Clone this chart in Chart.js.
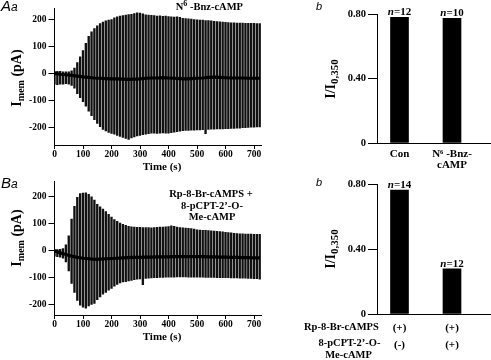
<!DOCTYPE html>
<html>
<head>
<meta charset="utf-8">
<script src="https://cdn.jsdelivr.net/npm/chart.js@4.4.1/dist/chart.umd.min.js"></script>
<style>
  body { margin: 0; background: #fff; width: 491px; height: 360px; position: relative; overflow: hidden;
         font-family: "Liberation Serif", "Times New Roman", serif; font-weight: bold; color: #000; }
  canvas { position: absolute; }
  .t { position: absolute; white-space: nowrap; line-height: 1; }
  .c { transform: translate(-50%, -50%); }
  .rot { transform: translate(-50%, -50%) rotate(-90deg); }
  .panel { font-family: "Liberation Sans", Arial, sans-serif; font-style: italic; font-weight: normal; }
  .sup { font-size: 8px; position: relative; top: -4px; }
  .sub { position: relative; top: 3px; }
</style>
</head>
<body>
<canvas id="traceA" width="268" height="172" style="left:0;top:0"></canvas>
<canvas id="barA" width="211" height="172" style="left:280px;top:0"></canvas>
<canvas id="traceB" width="268" height="188" style="left:0;top:172px"></canvas>
<canvas id="barB" width="211" height="188" style="left:280px;top:172px"></canvas>

<div class="t panel" style="left:1px;top:-2px;font-size:15px">A<span style="font-size:12px">a</span></div>
<div class="t panel" style="left:1px;top:175px;font-size:15px">B<span style="font-size:12px">a</span></div>
<div class="t panel" style="left:316px;top:1px;font-size:11px">b</div>
<div class="t panel" style="left:316px;top:177px;font-size:11px">b</div>

<div class="t" style="right:248px;top:2px;font-size:10.5px">N<span class="sup">6</span> -Bnz-cAMP</div>
<div class="t c" style="left:211px;top:194px;font-size:10.5px">Rp-8-Br-cAMPS +</div>
<div class="t c" style="left:212px;top:205.5px;font-size:10.5px">8-pCPT-2’-O-</div>
<div class="t c" style="left:212px;top:217px;font-size:10.5px">Me-cAMP</div>

<div class="t c" style="left:162px;top:166px;font-size:11px">Time (s)</div>
<div class="t c" style="left:162px;top:336px;font-size:11px">Time (s)</div>
<div class="t rot" style="left:17px;top:78px;font-size:14px">I<span class="sub" style="font-size:10px">mem</span> (pA)</div>
<div class="t rot" style="left:17px;top:238px;font-size:14px">I<span class="sub" style="font-size:10px">mem</span> (pA)</div>
<div class="t rot" style="left:331px;top:79px;font-size:14px">I/I<span class="sub" style="font-size:11px">0,350</span></div>
<div class="t rot" style="left:331px;top:249px;font-size:14px">I/I<span class="sub" style="font-size:11px">0,350</span></div>

<div class="t" style="left:304px;top:321.5px;font-size:10.5px">Rp-8-Br-cAMPS</div>
<div class="t c" style="left:349.5px;top:343.3px;font-size:10.5px">8-pCPT-2’-O-</div>
<div class="t c" style="left:348.5px;top:355px;font-size:10.5px">Me-cAMP</div>

<script>
// sampling times of the oscillation envelope (s)
const traceTime = [
  0, 10, 20, 30, 40, 50, 60, 70, 80, 90,
  100, 110, 120, 130, 140, 150, 160, 170, 180, 190,
  200, 210, 220, 230, 240, 250, 260, 270, 280, 290,
  300, 310, 320, 330, 340, 350, 360, 370, 380, 390,
  400, 410, 420, 430, 440, 450, 460, 470, 480, 490,
  500, 510, 520, 530, 540, 550, 560, 570, 580, 590,
  600, 610, 620, 630, 640, 650, 660, 670, 680, 690,
  700, 710, 720
];

// N6-Bnz-cAMP trace (pA)
const aUpper = [
  8, 8, 8, 6, 6, 6, 10, 20, 40, 62,
  85, 112, 138, 155, 167, 177, 185, 191, 195, 198,
  200, 207, 210, 213, 215, 217, 219, 220, 222, 225,
  224, 221, 218, 217, 216, 215, 213, 214, 212, 213,
  211, 210, 209, 210, 208, 205, 204, 203, 202, 200,
  199, 198, 198, 196, 196, 195, 194, 193, 192, 191,
  190, 189, 188, 188, 187, 187, 187, 186, 186, 186,
  186, 185, 185
];
const aLower = [
  -40, -42, -40, -40, -38, -40, -45, -55, -75, -90,
  -105, -122, -140, -157, -172, -186, -198, -208, -214, -219,
  -223, -226, -230, -234, -238, -242, -245, -240, -236, -232,
  -230, -228, -226, -224, -222, -222, -223, -222, -221, -222,
  -222, -220, -218, -216, -215, -213, -212, -212, -211, -211,
  -210, -210, -209, -224, -208, -207, -207, -206, -206, -206,
  -205, -205, -204, -204, -203, -203, -202, -202, -201, -200,
  -200, -199, -199
];

// Rp-8-Br-cAMPS + 8-pCPT-2'-O-Me-cAMP trace (pA)
const bUpper = [
  4, 4, 5, 8, 22, 55, 118, 165, 198, 212,
  214, 215, 210, 200, 188, 172, 163, 155, 145, 135,
  125, 116, 109, 103, 98, 94, 91, 89, 88, 87,
  87, 86, 86, 86, 85, 86, 87, 88, 88, 89,
  90, 92, 91, 88, 86, 85, 84, 83, 82, 80,
  78, 77, 76, 76, 75, 74, 73, 72, 71, 70,
  68, 67, 66, 65, 64, 63, 63, 62, 62, 62,
  61, 61, 61
];
const bLower = [
  -20, -22, -24, -28, -42, -75, -122, -155, -185, -202,
  -210, -214, -205, -200, -196, -182, -172, -162, -155, -147,
  -140, -132, -125, -120, -116, -115, -112, -110, -108, -106,
  -105, -126, -103, -102, -101, -100, -100, -99, -99, -98,
  -98, -98, -98, -97, -97, -97, -97, -98, -98, -98,
  -98, -98, -98, -99, -99, -99, -99, -100, -100, -100,
  -100, -100, -101, -101, -101, -102, -102, -102, -103, -103,
  -104, -104, -106
];

// holding-current baseline (pA)
const baseTime = [
  0, 20, 40, 60, 80, 100, 120, 140, 160, 180,
  200, 220, 240, 260, 280, 300, 320, 340, 360, 380,
  400, 420, 440, 460, 480, 500, 520, 540, 560, 580,
  600, 620, 640, 660, 680, 700, 720
];
const aBase = [
  0, -3, -5, -7, -10, -13, -15, -17, -18, -19,
  -20, -20, -21, -22, -21, -20, -18, -17, -17, -16,
  -17, -18, -19, -20, -19, -18, -17, -15, -14, -15,
  -16, -17, -17, -17, -18, -18, -18
];
const bBase = [
  0, -8, -14, -20, -25, -28, -30, -32, -31, -30,
  -29, -28, -27, -26, -25, -25, -24, -24, -23, -23,
  -23, -22, -22, -22, -22, -22, -22, -23, -23, -24,
  -24, -25, -25, -26, -26, -27, -27
];

const timeTicks = [0, 100, 200, 300, 400, 500, 600, 700];
const currentTicks = [-200, -100, 0, 100, 200];

// summary bars: I/I0,350
const aCategories = ['Con', ['N⁶ -Bnz-', 'cAMP']];
const aRatio = [0.781, 0.775];
const aN = [12, 10];
const bCategories = [['(+)', '(-)'], ['(+)', '(+)']];
const bRatio = [0.765, 0.278];
const bN = [14, 12];
const ratioTicks = [0, 0.4, 0.8];

const FONT = '"Liberation Serif", "Times New Roman", serif';

function traceChart(id, upper, lower, base, yMin, yMax, padTop, xHeight) {
  const swing = traceTime.map((t, i) => ({ x: t, y: [lower[i], upper[i]] }));
  const hold = baseTime.map((t, i) => ({ x: t, y: base[i] }));
  return new Chart(document.getElementById(id), {
    type: 'bar',
    data: {
      datasets: [
        { type: 'line', data: hold, borderColor: '#000', borderWidth: 3.2, pointRadius: 0, order: 0 },
        { data: swing, backgroundColor: '#111', barThickness: 1.7, order: 1 }
      ]
    },
    options: {
      responsive: false, animation: false, events: [], devicePixelRatio: 1,
      layout: { autoPadding: false, padding: { left: 0, top: padTop, right: 6.3, bottom: 0 } },
      plugins: { legend: { display: false }, tooltip: { enabled: false } },
      scales: {
        x: {
          type: 'linear', min: 0, max: 727, offset: false,
          afterBuildTicks: s => { s.ticks = timeTicks.map(v => ({ value: v })); },
          afterFit: s => { s.height = xHeight; },
          ticks: { color: '#000', padding: 0, maxRotation: 0, autoSkip: false,
                   font: { family: FONT, size: 9.5, weight: 'bold' } },
          grid: { offset: false, drawOnChartArea: false, tickLength: 4, color: '#000' },
          border: { color: '#000', width: 1 }
        },
        y: {
          min: yMin, max: yMax,
          afterBuildTicks: s => { s.ticks = currentTicks.map(v => ({ value: v })); },
          afterFit: s => { s.width = 54.5; },
          ticks: { color: '#000', padding: 2, callback: v => String(v),
                   font: { family: FONT, size: 9.5, weight: 'bold' } },
          grid: { drawOnChartArea: false, tickLength: 6, color: '#000' },
          border: { color: '#000', width: 1 }
        }
      }
    }
  });
}

const nLabels = {
  id: 'nLabels',
  afterDatasetsDraw(chart, args, opts) {
    const ctx = chart.ctx;
    chart.getDatasetMeta(0).data.forEach((bar, i) => {
      const rest = '=' + opts.counts[i];
      ctx.save();
      ctx.fillStyle = '#000';
      ctx.textBaseline = 'alphabetic';
      ctx.font = 'italic bold 11px ' + FONT;
      const w1 = ctx.measureText('n').width;
      ctx.font = 'bold 11px ' + FONT;
      const w2 = ctx.measureText(rest).width;
      const x0 = bar.x - (w1 + w2) / 2;
      ctx.font = 'italic bold 11px ' + FONT;
      ctx.fillText('n', x0, bar.y - 2);
      ctx.font = 'bold 11px ' + FONT;
      ctx.fillText(rest, x0 + w1, bar.y - 2);
      ctx.restore();
    });
  }
};

function ratioChart(id, cats, values, counts, padTop, xHeight, labelPad, lineHeight) {
  return new Chart(document.getElementById(id), {
    type: 'bar',
    data: {
      datasets: [{ data: values.map((v, i) => ({ x: i, y: v })), backgroundColor: '#000', barThickness: 18 }]
    },
    plugins: [nLabels],
    options: {
      responsive: false, animation: false, events: [], devicePixelRatio: 1,
      layout: { autoPadding: false, padding: { left: 0, top: padTop, right: 0, bottom: 0 } },
      plugins: { legend: { display: false }, tooltip: { enabled: false }, nLabels: { counts: counts } },
      scales: {
        x: {
          type: 'linear', min: -0.4286, max: 1.7429, offset: false,
          afterBuildTicks: s => { s.ticks = cats.map((c, i) => ({ value: i })); },
          afterFit: s => { s.height = xHeight; },
          ticks: { color: '#000', padding: labelPad, maxRotation: 0, autoSkip: false,
                   callback: v => cats[v],
                   font: { family: FONT, size: 11, weight: 'bold', lineHeight: lineHeight } },
          grid: { offset: false, drawOnChartArea: false, drawTicks: false, color: '#000' },
          border: { color: '#000', width: 1 }
        },
        y: {
          min: 0, max: 0.8,
          afterBuildTicks: s => { s.ticks = ratioTicks.map(v => ({ value: v })); },
          afterFit: s => { s.width = 97; },
          ticks: { color: '#000', padding: 2, callback: v => (v === 0 ? '0' : v.toFixed(2)),
                   font: { family: FONT, size: 10.5, weight: 'bold' } },
          grid: { drawOnChartArea: false, tickLength: 9, color: '#000' },
          border: { color: '#000', width: 1 }
        }
      }
    }
  });
}

traceChart('traceA', aUpper, aLower, aBase, -266, 242, 8.3, 27);
traceChart('traceB', bUpper, bLower, bBase, -239, 256.5, 9.7, 45);
ratioChart('barA', aCategories, aRatio, aN, 14.3, 29, 5.5, 1.0);
ratioChart('barB', bCategories, bRatio, bN, 12.3, 46, 6.2, 1.51);
</script>
</body>
</html>
